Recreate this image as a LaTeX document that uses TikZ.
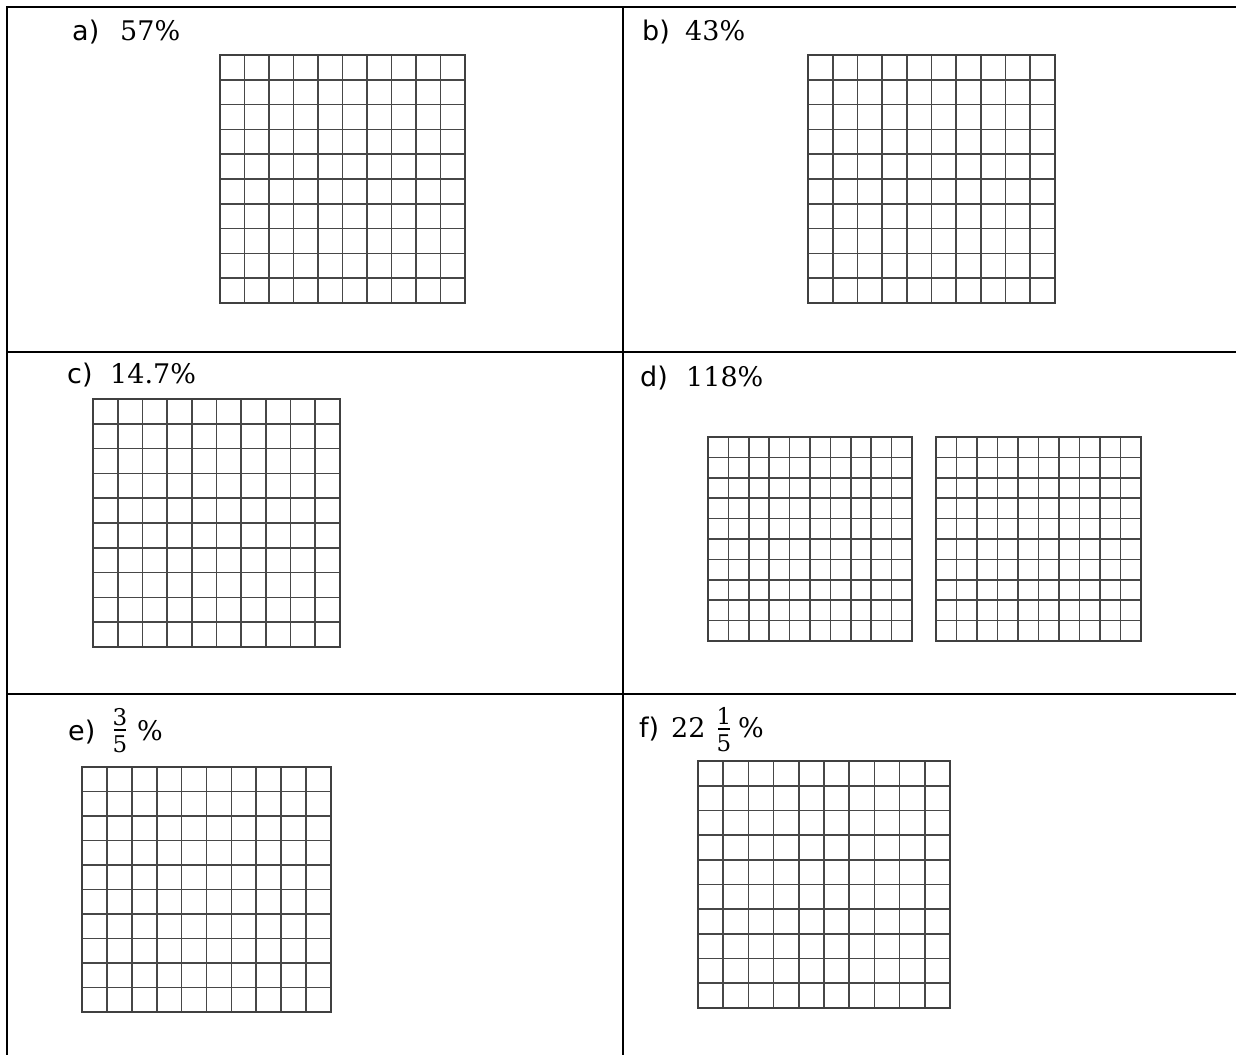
\documentclass[tikz,border=0pt]{standalone}
\usepackage{fontspec}
\setmainfont{DejaVu Sans}
\newfontfamily\numfont{DejaVu Serif}
\newcommand\hundredsq[4]{%
  \foreach \k in {1,...,9}{%
    \draw[gridln] ({#1+(#3-#1)*\k/10},#2) -- ({#1+(#3-#1)*\k/10},#4);
    \draw[gridln] (#1,{#2+(#4-#2)*\k/10}) -- (#3,{#2+(#4-#2)*\k/10});
  }%
  \draw[gridframe] (#1,#2) rectangle (#3,#4);
}
\begin{document}
\begin{tikzpicture}[x=1pt,y=-1pt,
  tableln/.style={line width=1.5pt, black},
  gridln/.style={line width=1.7pt, black!72},
  gridframe/.style={line width=2pt, black!75},
  lettertxt/.style={anchor=base west, inner sep=0pt, font=\fontsize{27}{30}\selectfont},
  numtxt/.style={anchor=base west, inner sep=0pt, font=\numfont\fontsize{27}{30}\selectfont},
  fractxt/.style={anchor=base, inner sep=0pt, font=\numfont\fontsize{23}{25}\selectfont},
  fracbar/.style={line width=1.6pt, black}]
\useasboundingbox (0,0) rectangle (1236,1055);
% table rules
\coordinate (tl) at (7,7);
\coordinate (tr) at (1236,7);
\coordinate (bl) at (7,1055);
\coordinate (mt) at (623,7);
\coordinate (mb) at (623,1055);
\coordinate (h1l) at (7,352);
\coordinate (h1r) at (1236,352);
\coordinate (h2l) at (7,694);
\coordinate (h2r) at (1236,694);
\draw[tableln] (tr) -- (tl) -- (bl);
\draw[tableln] (mt) -- (mb);
\draw[tableln] (h1l) -- (h1r);
\draw[tableln] (h2l) -- (h2r);
% hundred grids
\hundredsq{220}{55}{465}{303}
\hundredsq{808}{55}{1055}{303}
\hundredsq{93}{399}{340}{647}
\hundredsq{708}{437}{912}{641}
\hundredsq{936}{437}{1141}{641}
\hundredsq{82}{767}{331}{1012}
\hundredsq{698}{761}{950}{1008}
% labels
\node[lettertxt] (la) at (72,40) {a)};
\node[numtxt] (na) at (120,40) {57\%};
\node[lettertxt] (lb) at (642,40) {b)};
\node[numtxt] (nb) at (685,40) {43\%};
\node[lettertxt] (lc) at (67,383) {c)};
\node[numtxt] (nc) at (110,383) {14.7\%};
\node[lettertxt] (ld) at (640,386) {d)};
\node[numtxt] (nd) at (686,386) {118\%};
% e) 3/5 %
\node[lettertxt] (le) at (68,740) {e)};
\node[fractxt] (e3) at (120,725) {3};
\node[fractxt] (e5) at (120,752) {5};
\coordinate (ebar) at (120,730);
\draw[fracbar] ([xshift=-6pt]ebar) -- ([xshift=6pt]ebar);
\node[numtxt] (pe) at (137,740) {\%};
% f) 22 1/5 %
\node[lettertxt] (lf) at (639,737) {f)};
\node[numtxt] (nf) at (671,737) {22};
\node[fractxt] (f1) at (724,724) {1};
\node[fractxt] (f5) at (724,751) {5};
\coordinate (fbar) at (724,729);
\draw[fracbar] ([xshift=-6pt]fbar) -- ([xshift=6pt]fbar);
\node[numtxt] (pf) at (738,737) {\%};
\end{tikzpicture}
\end{document}
